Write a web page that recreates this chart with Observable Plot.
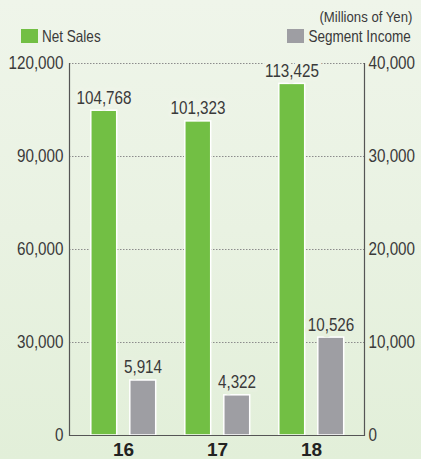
<!DOCTYPE html>
<html>
<head>
<meta charset="utf-8">
<script src="https://cdn.jsdelivr.net/npm/d3@7"></script>
<script src="https://cdn.jsdelivr.net/npm/@observablehq/plot@0.6"></script>
<style>
  html, body { margin: 0; padding: 0; }
  body {
    width: 421px; height: 459px; overflow: hidden;
    background: linear-gradient(to bottom, #eff5ea 0%, #e9f2e2 50%, #e2efd9 100%);
    font-family: "Liberation Sans", Arial, sans-serif;
    color: #3a3a3a;
  }
  #legend { position: relative; height: 48px; width: 421px; }
  #legend .sw { position: absolute; top: 29px; width: 17px; height: 14px; }
  #legend .lab { position: absolute; top: 26px; font-size: 16.5px; line-height: 20px; white-space: nowrap; transform: scaleX(0.82); }
  #unit { position: absolute; right: 9px; top: 7px; font-size: 15.5px; line-height: 20px; white-space: nowrap; transform: scaleX(0.85); transform-origin: right center; }
  #chart svg { display: block; }
</style>
</head>
<body>
<div id="legend"></div>
<div id="chart"></div>
<script>
const years = ["16", "17", "18"];
const netSales = [104768, 101323, 113425];
const segmentIncome = [5914, 4322, 10526];
const leftTicks = [0, 30000, 60000, 90000, 120000];
const rightTicks = [0, 10000, 20000, 30000, 40000];
const seriesNames = ["Net Sales", "Segment Income"];
const unitLabel = "(Millions of Yen)";

const green = "#72bf44";
const gray = "#9e9ea3";
const textColor = "#3a3a3a";
const ratio = leftTicks[leftTicks.length - 1] / rightTicks[rightTicks.length - 1];
const fmt = d3.format(",");

// legend
const legend = document.getElementById("legend");
legend.innerHTML = `
  <div id="unit">${unitLabel}</div>
  <div class="sw" style="left:21px;background:${green}"></div>
  <div class="lab" style="left:42px;transform-origin:left center">${seriesNames[0]}</div>
  <div class="sw" style="left:287px;background:${gray}"></div>
  <div class="lab" style="right:10px;transform-origin:right center">${seriesNames[1]}</div>
`;

const rows = years.map((y, i) => ({year: y, sales: netSales[i], income: segmentIncome[i]}));

const numSize = 17.5;
const plot = Plot.plot({
  width: 421,
  height: 411,
  marginLeft: 69,
  marginRight: 57,
  marginTop: 15,
  marginBottom: 24,
  style: {background: "transparent", fontFamily: "'Liberation Sans', Arial, sans-serif", fontSize: "16px", color: textColor},
  x: {domain: years, paddingInner: 0, paddingOuter: 0.058, axis: null},
  y: {domain: [0, leftTicks[leftTicks.length - 1]], axis: null},
  marks: [
    Plot.ruleY(leftTicks.filter(d => d > 0), {stroke: "#8c8c8c", strokeDasharray: "1.5,1.5", strokeWidth: 1}),
    Plot.barY(rows, {x: "year", y: "sales", fill: green, stroke: "white", strokeWidth: 1.5, insetLeft: 14.8, insetRight: 53.3}),
    Plot.barY(rows, {x: "year", y: d => d.income * ratio, fill: gray, stroke: "white", strokeWidth: 1.5, insetLeft: 53.8, insetRight: 14.3}),
    Plot.text(rows, {x: "year", y: "sales", text: d => fmt(d.sales), dx: -19.5, dy: -7, lineAnchor: "bottom", fill: textColor, stroke: "#eef4e8", strokeWidth: 8, fontSize: numSize, className: "cond"}),
    Plot.text(rows, {x: "year", y: d => d.income * ratio, text: d => fmt(d.income), dx: 19.5, dy: -7, lineAnchor: "bottom", fill: textColor, stroke: "#e6f0de", strokeWidth: 8, fontSize: numSize, className: "cond"}),
    Plot.axisY({anchor: "left", ticks: leftTicks, tickSize: 0, tickPadding: 6, tickFormat: fmt, label: null, fontSize: numSize, fill: textColor, className: "cond"}),
    Plot.axisY({anchor: "right", ticks: rightTicks.map(d => d * ratio), tickSize: 0, tickPadding: 4, tickFormat: d => fmt(d / ratio), label: null, fontSize: numSize, fill: textColor, className: "cond"}),
    Plot.axisX({anchor: "bottom", tickSize: 0, tickPadding: 7, label: null, fontSize: 19, fontWeight: "bold", fill: "#222"}),
    Plot.frame({anchor: "left", stroke: "#555", strokeWidth: 1.2}),
    Plot.frame({anchor: "right", stroke: "#555", strokeWidth: 1.2}),
    Plot.ruleY([0], {stroke: "#555", strokeWidth: 1.2})
  ]
});

// condense numeric text horizontally (the original uses a condensed face)
plot.querySelectorAll(".cond text, g.cond text, text.cond").forEach(t => {
  const tr = t.getAttribute("transform");
  if (tr) {
    t.setAttribute("transform", tr + " scale(0.87,1)");
  } else {
    const x = +(t.getAttribute("x") || 0), y = +(t.getAttribute("y") || 0);
    t.removeAttribute("x"); t.removeAttribute("y");
    t.setAttribute("transform", `translate(${x},${y}) scale(0.87,1)`);
  }
});
document.getElementById("chart").appendChild(plot);
</script>
</body>
</html>
